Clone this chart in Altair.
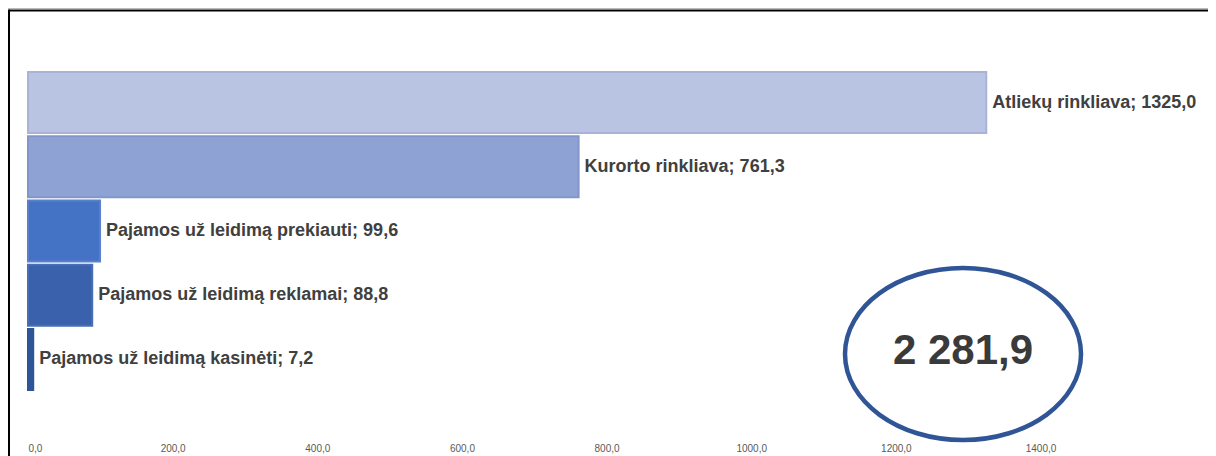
import altair as alt
import pandas as pd

categories = [
    "Atliekų rinkliava",
    "Kurorto rinkliava",
    "Pajamos už leidimą prekiauti",
    "Pajamos už leidimą reklamai",
    "Pajamos už leidimą kasinėti",
]
values = [1325.0, 761.3, 99.6, 88.8, 7.2]
tick_values = [0, 200, 400, 600, 800, 1000, 1200, 1400]

bar_fills = ["#B9C3E2", "#8FA2D4", "#4472C4", "#3A62AC", "#2E5597"]
bar_strokes = ["#A8B3D7", "#8296CA", "#5A80C9", "#4A6EB4", "#2E5597"]

df = pd.DataFrame({"category": categories, "value": values})

W, H = 1168, 318
x_scale = alt.Scale(domain=[0, 1615], nice=False, zero=True)
y_scale = alt.Scale(domain=categories, paddingInner=0.05, paddingOuter=0)

base = alt.Chart(df)

bars = base.mark_bar(strokeWidth=2).encode(
    x=alt.X(
        "value:Q",
        scale=x_scale,
        axis=alt.Axis(
            values=tick_values,
            labelExpr="replace(format(datum.value, '.1f'), '.', ',')",
            title=None,
            domain=False,
            ticks=False,
            grid=False,
            labelColor="#595959",
            labelFontSize=10,
            labelFont="Liberation Sans",
            offset=50,
            labelPadding=3,
        ),
    ),
    y=alt.Y("category:N", scale=y_scale, axis=None),
    fill=alt.Fill("category:N", scale=alt.Scale(domain=categories, range=bar_fills), legend=None),
    stroke=alt.Stroke("category:N", scale=alt.Scale(domain=categories, range=bar_strokes), legend=None),
)

labels = base.transform_calculate(
    label="datum.category + '; ' + replace(format(datum.value, '.1f'), '.', ',')"
).mark_text(
    align="left", baseline="middle", dx=6,
    font="Liberation Sans", fontSize=18, fontWeight="bold", color="#404040",
).encode(
    x=alt.X("value:Q", scale=x_scale),
    y=alt.Y("category:N", scale=y_scale, axis=None),
    text="label:N",
)

agg = base.transform_aggregate(total="sum(value)")

total = agg.transform_calculate(
    label="replace(replace(format(datum.total, ',.1f'), ',', ' '), '.', ',')"
).mark_text(
    font="Liberation Sans", fontSize=42, fontWeight="bold", color="#3A3A3A",
    baseline="middle", align="center",
).encode(x=alt.value(935), y=alt.value(279), text="label:N")

ellipse = agg.mark_point(
    shape="M -1 0 A 1 0.729 0 1 1 1 0 A 1 0.729 0 1 1 -1 0 Z",
    filled=False, size=236 ** 2, strokeWidth=4.5, color="#2F5597", opacity=1,
).encode(x=alt.value(935), y=alt.value(282))

frame_shadow = agg.mark_rule(color="#BBBBBB", strokeWidth=1).encode(
    x=alt.value(-20), x2=alt.value(W + 12), y=alt.value(-63.5)
)
frame_top = agg.mark_rule(color="#000000", strokeWidth=2).encode(
    x=alt.value(-19), x2=alt.value(W + 12), y=alt.value(-61.5)
)
frame_left = agg.mark_rule(color="#000000", strokeWidth=2).encode(
    x=alt.value(-19), y=alt.value(-62.5), y2=alt.value(H + 66)
)

chart = alt.layer(
    bars, labels, ellipse, total, frame_shadow, frame_top, frame_left
).properties(
    width=W,
    height=H,
    padding={"left": 20, "top": 64, "right": 12, "bottom": 66},
    autosize=alt.AutoSizeParams(type="none"),
).configure_view(stroke=None)

chart.save("out.html", embed_options={"renderer": "svg", "actions": False})
